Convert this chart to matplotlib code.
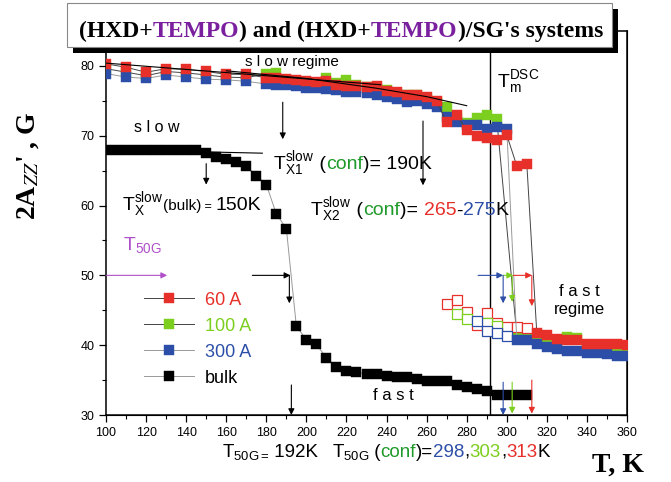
import numpy as np
import matplotlib
matplotlib.use("Agg")
import matplotlib.pyplot as plt
import matplotlib.transforms as mtransforms
from matplotlib.patches import Rectangle
from matplotlib.ticker import MultipleLocator

plt.rcParams['font.family'] = ['Liberation Sans', 'DejaVu Sans']
plt.rcParams['mathtext.fontset'] = 'custom'
plt.rcParams['mathtext.rm'] = 'Liberation Sans'
plt.rcParams['mathtext.it'] = 'Liberation Sans:italic'
plt.rcParams['mathtext.bf'] = 'Liberation Sans:bold'

# bulk
bulk_T = [100, 105, 110, 115, 120, 125, 130, 135, 140, 145, 150, 155, 160, 165, 170,
          175, 180, 185, 190, 195, 200, 205, 210, 215, 220, 225, 230, 235, 240, 245,
          250, 255, 260, 265, 270, 275, 280, 285, 290, 295, 300, 305, 310]
bulk_A = [68.0, 68.0, 68.0, 68.0, 68.0, 68.0, 67.9, 67.9, 67.9, 67.9, 67.5, 66.9, 66.6, 66.2, 65.6,
          64.3, 63.0, 58.8, 56.7, 42.7, 40.8, 40.1, 38.2, 36.9, 36.3, 36.1, 35.9, 35.9, 35.6, 35.5,
          35.5, 35.1, 34.9, 34.8, 34.8, 34.3, 34.0, 33.7, 33.4, 32.9, 32.9, 32.9, 32.9]

# 60 A
red_T = [100, 110, 120, 130, 140, 150, 160, 170, 180, 185, 190, 195, 200, 205, 210,
         215, 220, 225, 230, 235, 240, 245, 250, 255, 260, 265, 270, 275, 280, 285,
         290, 295, 300, 305, 310, 315, 320, 325, 330, 335, 340, 345, 350, 355, 360]
red_A = [80.3, 79.8, 79.1, 79.6, 79.5, 79.2, 78.8, 78.8, 78.3, 78.3, 78.1, 78.0, 77.8, 77.7, 77.8,
         77.3, 77.1, 77.1, 77.0, 77.1, 76.4, 76.2, 75.9, 75.9, 75.5, 75.0, 71.9, 73.0, 70.8, 69.9,
         69.7, 69.4, 70.1, 65.7, 66.0, 41.7, 41.4, 40.9, 40.8, 40.8, 40.1, 40.1, 40.1, 40.1, 40.0]

# 100 A
green_T = [100, 110, 120, 130, 140, 150, 160, 170, 180, 185, 190, 195, 200, 205, 210,
           215, 220, 225, 230, 235, 240, 245, 250, 255, 260, 265, 270, 275, 280, 285,
           290, 295, 305, 310, 315, 320, 325, 330, 335, 340, 345, 350, 355, 360]
green_A = [79.6, 79.1, 78.6, 79.2, 79.0, 78.7, 78.4, 78.3, 78.9, 79.0, 78.0, 77.9, 77.7, 77.6, 78.3,
           77.5, 78.0, 77.2, 77.0, 76.9, 76.6, 76.0, 75.8, 75.8, 75.2, 74.8, 74.1, 72.6, 71.8, 72.5,
           72.9, 72.4, 41.5, 41.5, 41.1, 40.6, 40.5, 41.2, 41.1, 39.7, 39.7, 39.6, 39.5, 39.4]

# 300 A
blue_T = [100, 110, 120, 130, 140, 150, 160, 170, 180, 185, 190, 195, 200, 205, 210,
          215, 220, 225, 230, 235, 240, 245, 250, 255, 260, 265, 270, 275, 280, 285,
          290, 295, 300, 305, 310, 315, 320, 325, 330, 335, 340, 345, 350, 355, 360]
blue_A = [78.9, 78.4, 78.2, 78.7, 78.4, 78.1, 78.0, 77.8, 77.4, 77.3, 77.2, 77.05, 76.9, 76.8, 76.7,
          76.6, 76.3, 76.2, 76.1, 75.9, 75.6, 75.2, 74.9, 75.0, 74.6, 74.1, 72.7, 71.9, 71.6, 71.6,
          71.0, 71.3, 71.0, 40.7, 40.8, 40.2, 39.8, 39.5, 39.2, 39.2, 38.9, 38.9, 38.8, 38.5, 38.4]

# open squares (fast branch below Tm)
red_open_T = [270, 275, 280, 285, 290, 295, 300, 305, 310]
red_open_A = [45.9, 46.4, 44.8, 42.9, 44.6, 43.2, 42.6, 42.6, 42.4]
green_open_T = [275, 280, 290, 295]
green_open_A = [44.4, 43.7, 43.2, 42.8]
blue_open_T = [285, 290, 295, 300]
blue_open_A = [43.5, 42.1, 41.8, 41.3]

# guide lines
fit1_T = [100, 237]
fit1_A = [80.4, 77.3]
fit2_T = [160, 200, 235, 260, 280]
fit2_A = [79.3, 78.2, 76.8, 75.6, 74.3]
bulkfit_T = [100, 178]
bulkfit_A = [68.0, 67.5]

T_DSC = 291.5

RED = '#e8302a'
GREEN = '#7ccf1e'
BLUE = '#2c4ea8'
DKGREEN = '#1f9a2a'
MAGENTA = '#b050c8'
PURPLE = '#7a1f9e'

fig = plt.figure(figsize=(6.71, 4.82), dpi=100)
ax = fig.add_axes([0.158, 0.139, 0.7764, 0.7967])

ms = 7
l1, = ax.plot(green_T, green_A, '-s', color='#444444', lw=0.7, ms=ms, mfc=GREEN, mec=GREEN, mew=0.3, zorder=3)
l2, = ax.plot(blue_T, blue_A, '-s', color='#999999', lw=0.7, ms=ms, mfc=BLUE, mec=BLUE, mew=0.3, zorder=4)
l3, = ax.plot(red_T, red_A, '-s', color='#444444', lw=0.7, ms=ms, mfc=RED, mec=RED, mew=0.3, zorder=5)
l4, = ax.plot(bulk_T, bulk_A, '-s', color='#999999', lw=0.7, ms=ms, mfc='black', mec='black', mew=0.3, zorder=5)

ax.plot(red_open_T, red_open_A, 's', ms=ms, mfc='white', mec=RED, mew=0.9, zorder=3)
ax.plot(green_open_T, green_open_A, 's', ms=ms, mfc='white', mec=GREEN, mew=0.9, zorder=3)
ax.plot(blue_open_T, blue_open_A, 's', ms=ms, mfc='white', mec=BLUE, mew=0.9, zorder=3)

ax.plot(fit1_T, fit1_A, color='black', lw=0.8, zorder=6)
ax.plot(fit2_T, fit2_A, color='black', lw=0.8, zorder=6)
ax.plot(bulkfit_T, bulkfit_A, color='black', lw=0.8, zorder=4)
ax.axvline(T_DSC, color='black', lw=1.0, zorder=2)

ax.set_xlim(100, 360)
ax.set_ylim(30, 85)
ax.xaxis.set_major_locator(MultipleLocator(20))
ax.xaxis.set_minor_locator(MultipleLocator(10))
ax.yaxis.set_major_locator(MultipleLocator(10))
ax.yaxis.set_minor_locator(MultipleLocator(5))
ax.tick_params(axis='both', which='major', labelsize=9, length=5, width=0.9, direction='out')
ax.tick_params(axis='both', which='minor', length=3, width=0.8, direction='out')
for s in ax.spines.values():
    s.set_linewidth(1.1)

# right-hand ticks point inward
ax_r = ax.twinx()
ax_r.set_ylim(ax.get_ylim())
ax_r.yaxis.set_major_locator(MultipleLocator(10))
ax_r.yaxis.set_minor_locator(MultipleLocator(5))
ax_r.tick_params(axis='y', which='major', direction='in', length=5, width=0.9, labelright=False)
ax_r.tick_params(axis='y', which='minor', direction='in', length=3, width=0.8)
ax_r.set_zorder(-1)


def arrow(x0, y0, x1, y1, c='black'):
    ax.annotate('', xy=(x1, y1), xytext=(x0, y0),
                arrowprops=dict(arrowstyle='-|>', color=c, lw=0.8, mutation_scale=9,
                                shrinkA=0, shrinkB=0), zorder=7)


arrow(188.2, 74.8, 188.2, 69.5)
arrow(150, 66.0, 150, 63.0)
arrow(258.2, 72.1, 258.2, 62.9)
arrow(100, 50, 130.5, 50, MAGENTA)
arrow(173, 50, 192, 50)
arrow(191.5, 50, 191.5, 46.0)
arrow(192.5, 34.3, 192.5, 30)
arrow(285.7, 50, 298.2, 50, BLUE)
arrow(298.2, 50, 303.2, 50, GREEN)
arrow(303.2, 50, 312.6, 50, RED)
arrow(298.2, 50, 298.2, 46.0, BLUE)
arrow(302.7, 50, 302.7, 46.2, GREEN)
arrow(312.5, 50, 312.5, 45.6, RED)
arrow(298.2, 34.7, 298.2, 30, BLUE)
arrow(302.7, 34.7, 302.7, 30.2, GREEN)
arrow(312.5, 35.0, 312.5, 30.2, RED)

renderer = fig.canvas.get_renderer()


def rainbow(x, y, pieces, transform, **kw):
    tr = transform
    for s, c, size in pieces:
        t = fig.text(x, y, s, color=c, fontsize=size, transform=tr, va='baseline', ha='left', **kw)
        t.draw(renderer)
        ex = t.get_window_extent(renderer)
        tr = mtransforms.offset_copy(t.get_transform(), x=ex.width, units='dots')
    return t


T_slow_X1 = r'$\mathrm{T}^{\mathrm{slow}}_{\mathrm{X1}}$'
T_slow_X2 = r'$\mathrm{T}^{\mathrm{slow}}_{\mathrm{X2}}$'
T_slow_X = r'$\mathrm{T}^{\mathrm{slow}}_{\mathrm{X}}$'
T_50G = r'$\mathrm{T}_{\mathrm{50G}}$'

rainbow(183.3, 65.2, [(T_slow_X1, 'black', 14), (' (', 'black', 14), ('conf', DKGREEN, 14),
                      (')= 190K', 'black', 14)], ax.transData)
rainbow(107.8, 59.3, [(T_slow_X, 'black', 14), ('(bulk)', 'black', 11), (' = ', 'black', 9),
                      ('150K', 'black', 14)], ax.transData)
rainbow(201.8, 58.6, [(T_slow_X2, 'black', 14), (' (', 'black', 14), ('conf', DKGREEN, 14),
                      (')= ', 'black', 14), ('265', RED, 14), ('-', 'black', 14),
                      ('275', BLUE, 14), ('K', 'black', 14)], ax.transData)
ax.text(108.7, 53.6, T_50G, color=MAGENTA, fontsize=14, va='baseline')
ax.text(295.3, 76.9, r'$\mathrm{T}_{\mathrm{m}}^{\mathrm{DSC}}$', fontsize=14, va='baseline')

ax.text(193, 80.0, 's l o w regime', fontsize=11, ha='center', va='baseline')
ax.text(125.2, 70.5, 's l o w', fontsize=11.5, ha='center', va='baseline')
ax.text(336.1, 47.0, 'f a s t', fontsize=12, ha='center', va='baseline')
ax.text(336.1, 44.4, 'regime', fontsize=12, ha='center', va='baseline')
ax.text(243.3, 32.1, 'f a s t', fontsize=12, ha='center', va='baseline')

leg = ax.legend([l3, l1, l2, l4], ['60 A', '100 A', '300 A', 'bulk'],
                loc='upper left', bbox_to_anchor=(0.055, 0.345), frameon=False,
                fontsize=13, handlelength=2.8, handletextpad=0.6, labelspacing=0.5,
                borderpad=0, labelcolor=[RED, GREEN, BLUE, 'black'])

# axis labels
fig.text(28 / 671, 1 - 166 / 482, "2A$_{ZZ}$' , G", rotation=90, ha='center', va='center',
         fontsize=20, fontweight='bold', family='Liberation Serif', math_fontfamily='stix')
fig.text(591.7 / 671, 1 - 471.7 / 482, 'T, K', ha='left', va='baseline',
         fontsize=20, fontweight='bold', family='Liberation Serif')

rainbow(221.7 / 671, 1 - 456.7 / 482, [(r'$\mathrm{T}_{\mathrm{50G=}}$', 'black', 13.5),
                                       (' 192K', 'black', 13.5)], fig.transFigure)
rainbow(331.7 / 671, 1 - 456.7 / 482, [(T_50G, 'black', 13.5), (' (', 'black', 13.5),
                                       ('conf', DKGREEN, 13.5), (')=', 'black', 13.5),
                                       ('298', BLUE, 13.5), (',', 'black', 13.5),
                                       ('303', GREEN, 13.5), (',', 'black', 13.5),
                                       ('313', RED, 13.5), ('K', 'black', 13.5)], fig.transFigure)

# title box with shadow
fig.add_artist(Rectangle(((67 + 6) / 671, 1 - (47 + 6) / 482), 545 / 671, 44 / 482,
                         transform=fig.transFigure, facecolor='black', edgecolor='none', zorder=10))
fig.add_artist(Rectangle((67 / 671, 1 - 47 / 482), 545 / 671, 44 / 482,
                         transform=fig.transFigure, facecolor='white', edgecolor='#888888',
                         lw=0.8, zorder=11))
rainbow(79 / 671, 1 - 36.7 / 482, [('(HXD+', 'black', 17), ('TEMPO', PURPLE, 17),
                                   (') and (HXD+', 'black', 17), ('TEMPO', PURPLE, 17),
                                   (")/SG's systems", 'black', 17)], fig.transFigure,
        family='Liberation Serif', fontweight='bold', zorder=12)

fig.savefig('out.png', dpi=100)
